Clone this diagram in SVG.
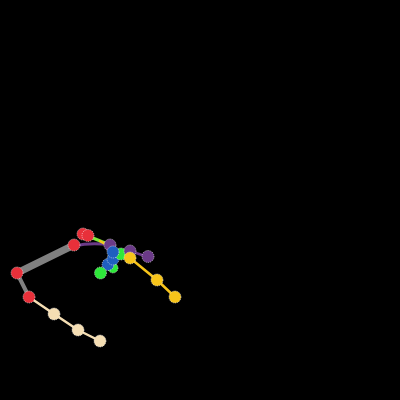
<svg xmlns="http://www.w3.org/2000/svg" width="400" height="400" viewBox="0 0 400 400">
<style>
.j{stroke:#ffffff;stroke-opacity:0.6;stroke-width:1;stroke-dasharray:1 1}
.r{fill:#e8303a}.b{fill:#f5deb3}.p{fill:#6b3a88}.u{fill:#1f5fc0}.g{fill:#2ee83a}.y{fill:#f7c41a}
.l{fill:none;stroke-linecap:round}
</style>
<rect width="400" height="400" fill="#000"/>
<g id="connectors">
<line class="l" x1="74" y1="245" x2="17" y2="273" stroke="#808080" stroke-width="7"/>
<line class="l" x1="17" y1="273" x2="29" y2="297" stroke="#808080" stroke-width="4"/>
<polyline class="l" points="29,297 54,314 78,330 100,341" stroke="#f5deb3" stroke-width="2.5"/>
<path class="l" d="M74,246 Q92,242 110,245" stroke="#6b3a88" stroke-width="3"/>
<line class="l" x1="88" y1="236" x2="110" y2="245" stroke="#7ee83a" stroke-width="3"/>
<line class="l" x1="100" y1="241" x2="130" y2="258" stroke="#f7c41a" stroke-width="2.5"/>
<line class="l" x1="130" y1="251" x2="148" y2="257" stroke="#6b3a88" stroke-width="2.5"/>
<polyline class="l" points="130,258 157,280 175,297" stroke="#f7c41a" stroke-width="2.5"/>
<line class="l" x1="113" y1="252" x2="121" y2="254" stroke="#2ee83a" stroke-width="2"/>
</g>
<g id="n_r1"><circle class="j r" cx="74" cy="245" r="6"/></g>
<g id="n_r2"><circle class="j r" cx="83" cy="234" r="6"/></g>
<g id="n_r3"><circle class="j r" cx="88" cy="235.5" r="6"/></g>
<g id="n_r4"><circle class="j r" cx="17" cy="273" r="6"/></g>
<g id="n_r5"><circle class="j r" cx="29" cy="297" r="6"/></g>
<g id="n_b1"><circle class="j b" cx="54" cy="314" r="6"/></g>
<g id="n_b2"><circle class="j b" cx="78" cy="330" r="6"/></g>
<g id="n_b3"><circle class="j b" cx="100" cy="341" r="6"/></g>
<g id="n_p1"><circle class="j p" cx="110" cy="245" r="6"/></g>
<g id="n_g3"><circle class="j g" cx="113" cy="268" r="5"/></g>
<g id="n_u3"><circle class="j u" cx="108" cy="264.5" r="6"/></g>
<g id="n_u2"><circle class="j u" cx="113" cy="259" r="6"/></g>
<g id="n_g1"><circle class="j g" cx="121" cy="254" r="6"/></g>
<g id="n_u1"><circle class="j u" cx="113" cy="252" r="6"/></g>
<g id="n_p2"><circle class="j p" cx="130" cy="251" r="6"/></g>
<g id="n_y1"><circle class="j y" cx="130" cy="258" r="6"/></g>
<g id="n_p3"><circle class="j p" cx="148" cy="256.5" r="6"/></g>
<g id="n_g2"><circle class="j g" cx="100.5" cy="273" r="6"/></g>
<g id="n_y2"><circle class="j y" cx="157" cy="280" r="6"/></g>
<g id="n_y3"><circle class="j y" cx="175" cy="297" r="6"/></g>
</svg>
